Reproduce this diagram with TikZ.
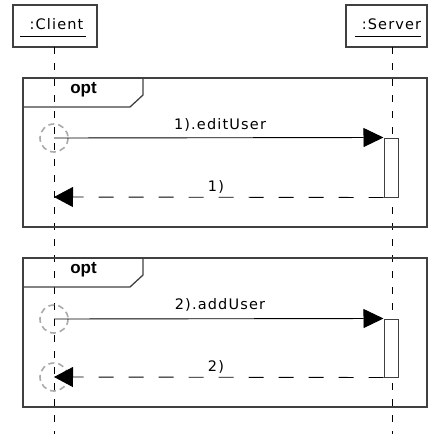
\documentclass[tikz,border=0pt]{standalone}
\usepackage{fontspec}
\usetikzlibrary{arrows.meta}
\newfontfamily\umlfont[LetterSpace=8]{DejaVu Sans}
\newfontfamily\optfont{Liberation Sans Bold}
\definecolor{framegray}{HTML}{404040}
\definecolor{circgray}{HTML}{AAAAAA}
\begin{document}
\begin{tikzpicture}[x=1pt,y=-1pt,
  objbox/.style={draw=framegray,line width=1.3pt,fill=white,inner sep=0pt,anchor=north west},
  lifeline/.style={draw=black,line width=0.9pt,dash pattern=on 7pt off 9pt},
  frameline/.style={draw=framegray,line width=1.3pt},
  actbox/.style={draw=framegray,line width=1pt,fill=white},
  callmsg/.style={draw=black,line width=0.9pt,-{Triangle[length=20pt,width=19pt]}},
  retmsg/.style={draw=black,line width=0.9pt,dash pattern=on 15pt off 15pt,-{Triangle[length=19pt,width=20pt]}},
  msglabel/.style={font=\umlfont\fontsize{14.5}{17}\selectfont,text=black,inner sep=0pt},
  optlabel/.style={font=\optfont\fontsize{17}{19}\selectfont,text=black,inner sep=0pt},
  startcircle/.style={draw=circgray,line width=1.6pt,dash pattern=on 6pt off 4pt}]
\useasboundingbox (0,0) rectangle (428,434);

% object boxes
\draw[objbox] (13,5) rectangle (97,47);
\node[msglabel] (client) at (56.5,24) {:Client};
\draw[black,line width=0.9pt] (20,36) -- (86,36);
\draw[objbox] (346,5) rectangle (427,47);
\node[msglabel] (server) at (391.5,24) {:Server};
\draw[black,line width=0.9pt] (355,36) -- (421,36);

% lifeline coordinates
\coordinate (cTop) at (54,47);
\coordinate (cBot) at (54,434);
\coordinate (sTop) at (392,47);
\coordinate (sBot) at (392,434);
\draw[lifeline] (cTop) -- (cBot);
\draw[lifeline] (sTop) -- (sBot);

% frame 1
\draw[frameline] (23,78) rectangle (427,227);
\draw[frameline] (23,107) -- (130,107) -- (143,95) -- (143,78);
\node[optlabel] (opt1) at (83.5,90) {opt};

% frame 2
\draw[frameline] (23,258) rectangle (427,407);
\draw[frameline] (23,287) -- (130,287) -- (143,275) -- (143,258);
\node[optlabel] (opt2) at (83.5,270) {opt};

% activation boxes
\node[actbox,minimum width=14pt,minimum height=59pt,inner sep=0pt] (act1) at (391,167.5) {};
\node[actbox,minimum width=14pt,minimum height=58pt,inner sep=0pt] (act2) at (391,348) {};

% message endpoints
\coordinate (m1s) at (54,138);
\coordinate (r1e) at (54,197);
\coordinate (m2s) at (54,319);
\coordinate (r2e) at (54,377);

% start circles
\draw[startcircle] (m1s) circle (14);
\draw[startcircle] (m2s) circle (14);
\draw[startcircle] (r2e) circle (14);

% messages
\draw[callmsg] (m1s) -- (act1.north west);
\draw[retmsg] (act1.south west) -- (r1e);
\draw[callmsg] (m2s) -- (act2.north west);
\draw[retmsg] (act2.south west) -- (r2e);

% labels
\node[msglabel] (l1) at (220,125) {1).editUser};
\node[msglabel] (l1r) at (216,187) {1)};
\node[msglabel] (l2) at (220,305) {2).addUser};
\node[msglabel] (l2r) at (216,367) {2)};
\end{tikzpicture}
\end{document}
